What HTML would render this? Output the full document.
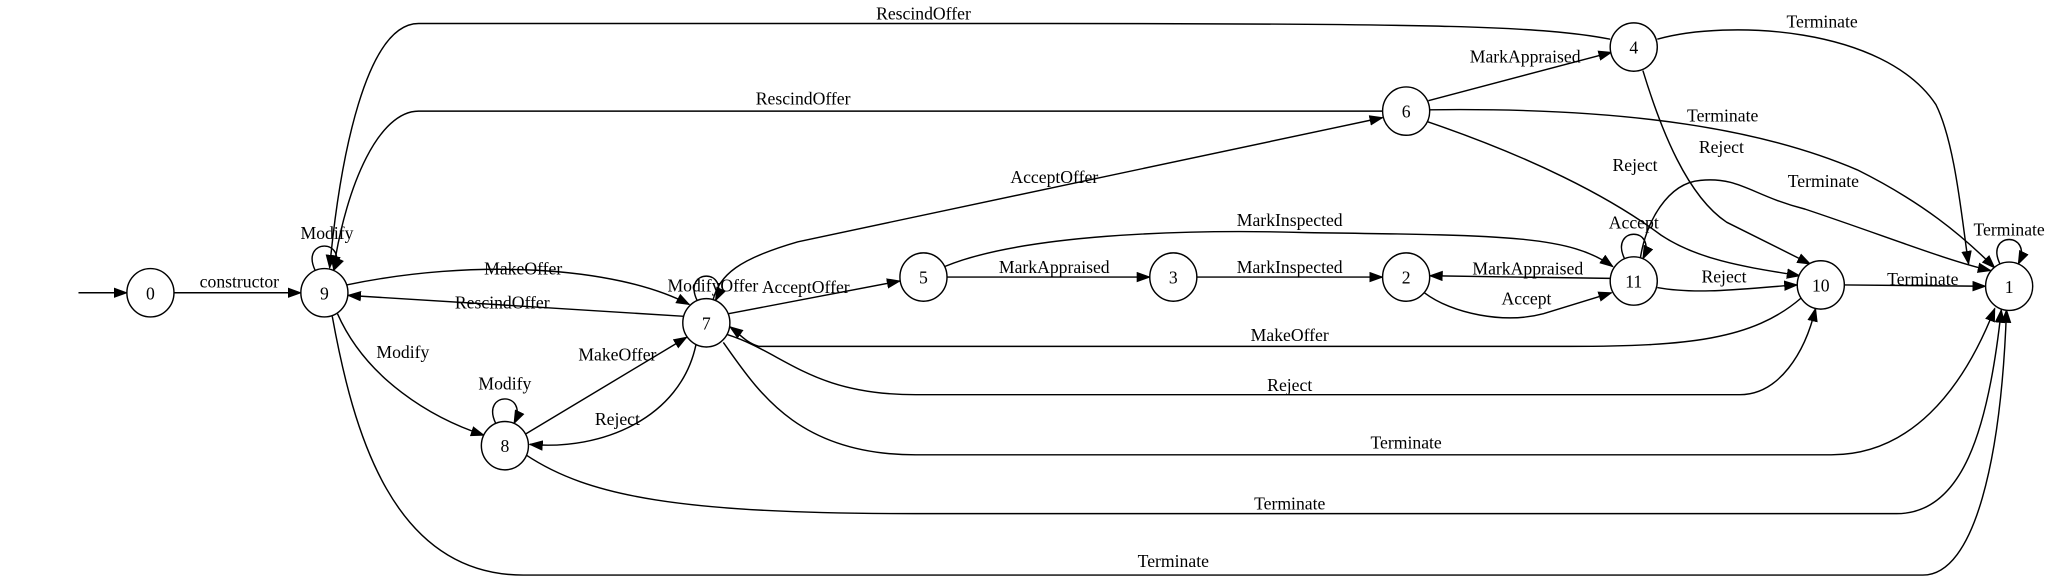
<!DOCTYPE html>
<html><head><meta charset="utf-8"><style>html,body{margin:0;padding:0;background:#fff}svg{display:block}</style></head><body>
<svg width="2051" height="579" viewBox="0 0 1568 443" preserveAspectRatio="none" xmlns="http://www.w3.org/2000/svg">
<defs><marker id="a" markerUnits="userSpaceOnUse" markerWidth="11" markerHeight="8" refX="10" refY="4" orient="auto"><path d="M0,0 L11,4 L0,8 z" fill="#000"/></marker></defs>
<g fill="none" stroke="#000" stroke-width="1.1" marker-end="url(#a)">
<path d="M60,224 L97,224"/>
<path d="M133,224 L230,224"/>
<path d="M241,207 C229,182 267,182 255,207"/>
<path d="M265,218 C360,198 470,203 527,233"/>
<path d="M523,242 L266,226"/>
<path d="M258,240 C280,290 330,320 370,333"/>
<path d="M379,324 C367,299 405,299 393,324"/>
<path d="M402,332 L525,258"/>
<path d="M532,264 C520,320 460,345 405,340"/>
<path d="M533,230 C521,205 559,205 547,230"/>
<path d="M545,230 C550,210 565,198 610,185 L1057,90"/>
<path d="M557,240 L688,215"/>
<path d="M724,212 L879,212"/>
<path d="M915,212 L1057,212"/>
<path d="M722,204 C780,180 900,175 1000,178 C1150,180 1200,180 1233,204"/>
<path d="M1231,213 L1093,211"/>
<path d="M1089,224 C1110,240 1150,248 1180,240 L1232,224"/>
<path d="M1242,198 C1230,173 1268,173 1256,198"/>
<path d="M1267,220 C1300,226 1340,220 1374,218"/>
<path d="M1410,218 L1518,219"/>
<path d="M1529,202 C1517,177 1555,177 1543,202"/>
<path d="M1254,198 C1258,170 1275,140 1300,138 C1330,135 1340,150 1380,160 C1440,180 1490,200 1522,207"/>
<path d="M1092,77 L1232,40"/>
<path d="M1093,84 C1250,82 1350,100 1420,130 C1470,155 1500,180 1525,205"/>
<path d="M1091,93 C1170,120 1230,150 1270,180 C1300,200 1340,205 1376,211"/>
<path d="M1256,54 C1270,100 1290,150 1320,170 C1350,185 1370,195 1384,202"/>
<path d="M1267,30 C1320,15 1440,20 1480,80 C1495,110 1500,170 1505,202"/>
<path d="M1231,30 C1180,20 1100,18 800,18 L320,18 C280,18 260,120 252,205"/>
<path d="M1057,85 L320,85 C290,85 265,140 255,206"/>
<path d="M1377,228 C1340,260 1290,265 1200,265 L580,265 C570,262 565,255 558,250"/>
<path d="M556,256 C600,270 620,302 700,302 L1330,302 C1360,302 1380,270 1388,236"/>
<path d="M553,262 C580,300 610,348 700,348 L1400,348 C1460,348 1500,300 1525,236"/>
<path d="M402,348 C450,380 520,393 700,393 L1450,393 C1500,393 1520,330 1530,237"/>
<path d="M254,242 C270,330 300,440 400,440 L1470,440 C1510,440 1530,350 1534,237"/>
</g>
<g fill="#fff" stroke="#000" stroke-width="1.1">
<ellipse cx="115" cy="224" rx="18" ry="18.5"/><ellipse cx="248" cy="224" rx="18" ry="18.5"/>
<ellipse cx="540" cy="247" rx="18" ry="18.5"/><ellipse cx="386" cy="341" rx="18" ry="18.5"/>
<ellipse cx="706" cy="212" rx="18" ry="18.5"/><ellipse cx="897" cy="212" rx="18" ry="18.5"/>
<ellipse cx="1075" cy="212" rx="18" ry="18.5"/><ellipse cx="1249" cy="215" rx="18" ry="18.5"/>
<ellipse cx="1392" cy="218" rx="18" ry="18.5"/><ellipse cx="1536" cy="219" rx="18" ry="18.5"/>
<ellipse cx="1075" cy="85" rx="18" ry="18.5"/><ellipse cx="1249" cy="36" rx="18" ry="18.5"/>
</g>
<g font-family="Liberation Serif, serif" font-size="13.5" text-anchor="middle">
<text x="115" y="229">0</text><text x="248" y="229">9</text><text x="540" y="252">7</text><text x="386" y="346">8</text>
<text x="706" y="217">5</text><text x="897" y="217">3</text><text x="1075" y="217">2</text><text x="1249" y="220">11</text>
<text x="1392" y="223">10</text><text x="1536" y="224">1</text><text x="1075" y="90">6</text><text x="1249" y="41">4</text>
<text x="183" y="220">constructor</text>
<text x="250" y="183">Modify</text>
<text x="400" y="210">MakeOffer</text>
<text x="384" y="236">RescindOffer</text>
<text x="308" y="274">Modify</text>
<text x="386" y="298">Modify</text>
<text x="472" y="276">MakeOffer</text>
<text x="472" y="325">Reject</text>
<text x="545" y="223">ModifyOffer</text>
<text x="806" y="140">AcceptOffer</text>
<text x="616" y="224">AcceptOffer</text>
<text x="806" y="209">MarkAppraised</text>
<text x="986" y="209">MarkInspected</text>
<text x="986" y="173">MarkInspected</text>
<text x="1168" y="210">MarkAppraised</text>
<text x="1167" y="233">Accept</text>
<text x="1249" y="175">Accept</text>
<text x="1318" y="216">Reject</text>
<text x="1470" y="218">Terminate</text>
<text x="1536" y="180">Terminate</text>
<text x="1394" y="143">Terminate</text>
<text x="1166" y="48">MarkAppraised</text>
<text x="1317" y="93">Terminate</text>
<text x="1250" y="131">Reject</text>
<text x="1316" y="117">Reject</text>
<text x="1393" y="21">Terminate</text>
<text x="706" y="15">RescindOffer</text>
<text x="614" y="80">RescindOffer</text>
<text x="986" y="261">MakeOffer</text>
<text x="986" y="299">Reject</text>
<text x="1075" y="343">Terminate</text>
<text x="986" y="390">Terminate</text>
<text x="897" y="434">Terminate</text>
</g>
</svg>
</body></html>
